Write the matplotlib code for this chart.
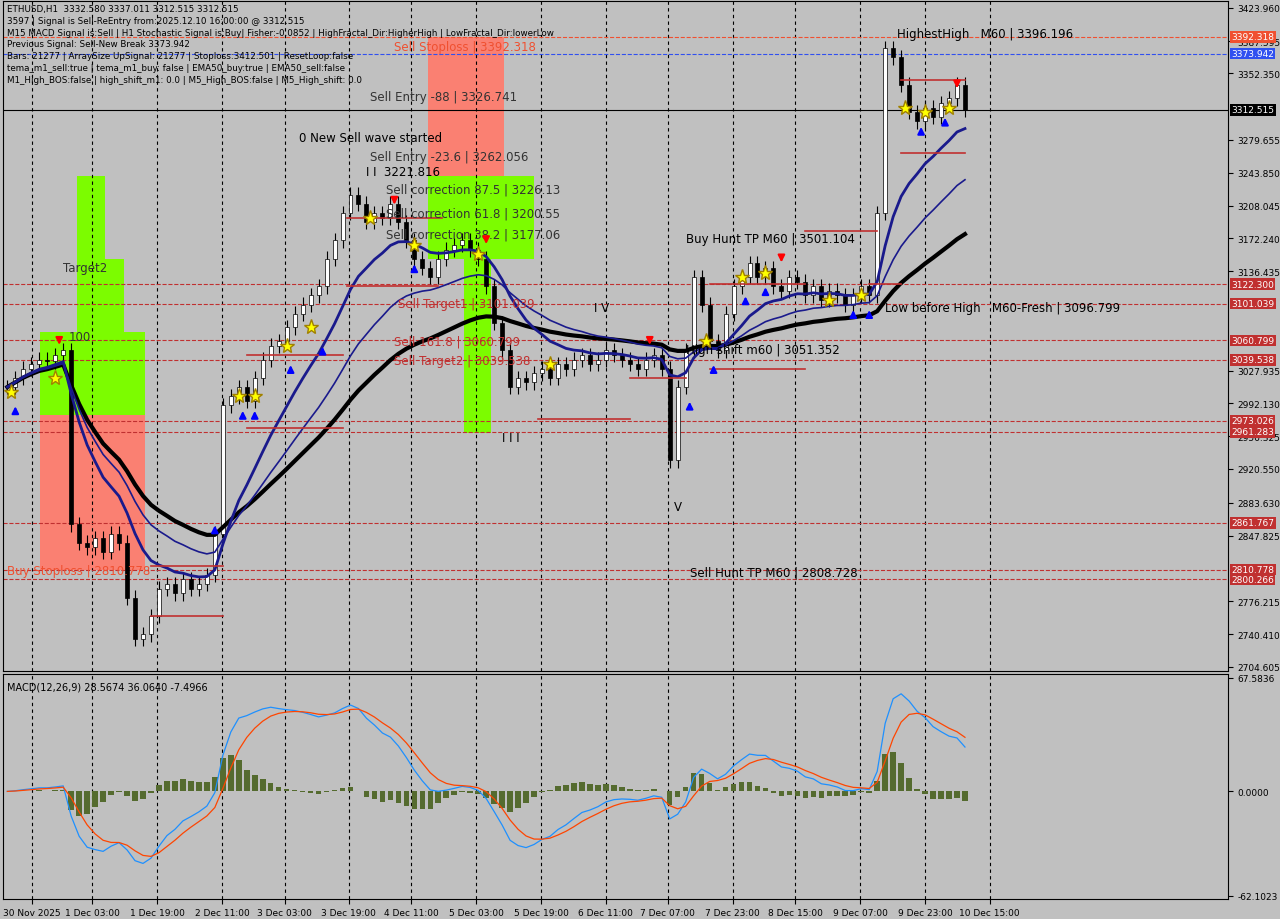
import matplotlib
matplotlib.use("Agg")
import matplotlib.pyplot as plt
import numpy as np
import pandas as pd
from matplotlib.patches import Rectangle

closes = [3010,3020,3030,3035,3040,3038,3045,3050,2860,2840,2835,2845,2830,2850,2840,2780,2735,2740,2760,2790,
          2795,2785,2800,2790,2795,2805,2850,2990,3000,3010,2995,3020,3040,3055,3060,3075,3090,3100,3110,3120,
          3150,3170,3200,3220,3210,3190,3200,3195,3210,3190,3170,3150,3140,3130,3150,3160,3165,3170,3160,3150,
          3120,3080,3050,3010,3020,3015,3025,3030,3020,3035,3030,3040,3045,3035,3040,3050,3045,3040,3035,3030,
          3040,3045,3030,2930,3010,3050,3130,3100,3060,3050,3090,3120,3130,3145,3130,3140,3120,3115,3130,3125,
          3110,3120,3105,3115,3110,3100,3110,3120,3110,3200,3380,3370,3340,3310,3300,3315,3305,3320,3325,3340,3312.515]
date_pos = [3.1,10.6,18.75,26.9,34.75,42.75,50.6,58.75,66.9,75,82.75,90.9,98.75,106.9,115,123.1]
date_labels = ["30 Nov 2025","1 Dec 03:00","1 Dec 19:00","2 Dec 11:00","3 Dec 03:00","3 Dec 19:00","4 Dec 11:00",
               "5 Dec 03:00","5 Dec 19:00","6 Dec 11:00","7 Dec 07:00","7 Dec 23:00","8 Dec 15:00","9 Dec 07:00",
               "9 Dec 23:00","10 Dec 15:00"]
price_ticks = [3423.960,3387.595,3352.350,3279.655,3243.850,3208.045,3172.240,3136.435,3027.935,2992.130,
               2956.325,2920.550,2883.630,2847.825,2776.215,2740.410,2704.605]
levels = [(3392.318,'#F05030','--'),(3373.942,'#3050F0','--'),(3312.515,'#000000','-'),(3122.300,'#C03030','--'),
          (3101.039,'#C03030','--'),(3060.799,'#C03030','--'),(3039.538,'#C03030','--'),(2973.026,'#C03030','--'),
          (2961.283,'#C03030','--'),(2861.767,'#C03030','--'),(2810.778,'#C03030','--'),(2800.266,'#C03030','--')]
macd_ticks = [67.5836,0.0,-62.1023]

bg = '#C0C0C0'
fig = plt.figure(figsize=(12.8,9.2), dpi=100, facecolor=bg)
ax = fig.add_axes([0.002,0.27,0.957,0.728], facecolor=bg)
ax2 = fig.add_axes([0.002,0.022,0.957,0.244], facecolor=bg)
n = len(closes)
x = np.arange(n)
c = np.array(closes, float)
o = np.r_[c[0], c[:-1]]
hi = np.maximum(o,c)+8; lo = np.minimum(o,c)-8
for (x0,x1,y0,y1,col) in [(4.1,17.2,2810,3040,'#FA8072'),(4.1,17.2,2980,3070,'#7CFC00'),(8.7,12.2,2980,3240,'#7CFC00'),
                          (12.2,14.6,2980,3150,'#7CFC00'),(52.7,62.2,3240,3392,'#FA8072'),(52.7,66,3150,3240,'#7CFC00'),
                          (57.2,60.6,2960,3150,'#7CFC00')]:
    ax.add_patch(Rectangle((x0,y0),x1-x0,y1-y0,color=col,zorder=1,lw=0))
for i in range(n):
    ax.vlines(x[i],lo[i],hi[i],color='black',lw=0.8,zorder=3)
    ax.add_patch(Rectangle((x[i]-0.25,min(o[i],c[i])),0.5,max(abs(c[i]-o[i]),0.5),
                 facecolor='white' if c[i]>=o[i] else 'black',edgecolor='black',lw=0.5,zorder=3))
s = pd.Series(c)
ax.plot(x, s.ewm(span=50).mean(), color='black', lw=3, zorder=4)
ax.plot(x, s.ewm(span=12).mean(), color='#1A1A8C', lw=2, zorder=4)
ax.plot(x, s.ewm(span=25).mean(), color='#1A1A8C', lw=1.2, zorder=4)
for lv,col,ls in levels:
    ax.axhline(lv, color=col, ls=ls, lw=0.8, zorder=2)
    ax.text(1.003, lv, f"{lv:.3f}", transform=ax.get_yaxis_transform(), fontsize=6.5, color='white', va='center',
            bbox=dict(facecolor=col, edgecolor='none', pad=1.0), zorder=8)
for p in date_pos:
    ax.axvline(p, color='black', ls=(0,(3,3)), lw=0.8, zorder=1)
    ax2.axvline(p, color='black', ls=(0,(3,3)), lw=0.8, zorder=1)
ax.set_xlim(-0.6,152.9); ax.set_ylim(2700.5,3431.5)
ax.yaxis.tick_right(); ax.set_yticks(price_ticks); ax.set_yticklabels([f"{t:.3f}" for t in price_ticks], fontsize=6.5)
ax.set_xticks([])
info = ["ETHUSD,H1  3332.580 3337.011 3312.515 3312.515",
        "3597 | Signal is Sell-ReEntry from:2025.12.10 16:00:00 @ 3312.515",
        "M15 MACD Signal is:Sell | H1 Stochastic Signal is:Buy| Fisher:-0.0852 | HighFractal_Dir:HigherHigh | LowFractal_Dir:lowerLow",
        "Previous Signal: Sell-New Break 3373.942",
        "Bars: 21277 | ArraySize UpSignal: 21277 | Stoploss:3412.501 | ResetLoop:false",
        "tema_m1_sell:true | tema_m1_buy: false | EMA50_buy:true | EMA50_sell:false",
        "M1_High_BOS:false | high_shift_m1: 0.0 | M5_High_BOS:false | M5_High_shift: 0.0"]
for k,t in enumerate(info):
    ax.text(0.004, 0.995-k*0.0175, t, transform=ax.transAxes, fontsize=6.3, va='top', color='black')
notes = [(48.5,3382,"Sell Stoploss | 3392.318",'#F05030'),(45.5,3327,"Sell Entry -88 | 3326.741",'#333333'),
         (45.5,3262,"Sell Entry -23.6 | 3262.056",'#333333'),(36.5,3282,"0 New Sell wave started",'black'),
         (47.5,3226,"Sell correction 87.5 | 3226.13",'#333333'),(47.5,3200,"Sell correction 61.8 | 3200.55",'#333333'),
         (47.5,3177,"Sell correction 38.2 | 3177.06",'#333333'),(49,3101,"Sell Target1 | 3101.039",'#C03030'),
         (48.5,3060,"Sell 161.8 | 3060.799",'#C03030'),(48.5,3039,"Sell Target2 | 3039.538",'#C03030'),
         (85,3172,"Buy Hunt TP M60 | 3501.104",'black'),(85.5,2808,"Sell Hunt TP M60 | 2808.728",'black'),
         (85,3051,"High shift m60 | 3051.352",'black'),(110,3097,"Low before High   M60-Fresh | 3096.799",'black'),
         (111.5,3396,"HighestHigh   M60 | 3396.196",'black'),(0,2810,"Buy Stoploss | 2810.778",'#F05030'),
         (7,3140,"Target2",'#333333'),(7.7,3065,"100",'#333333'),(45,3245,"I I  3221.816",'black'),
         (83.5,2880,"V",'black'),(62,2955,"I I I",'black'),(73.5,3097,"I V",'black')]
for xx,yy,t,col in notes:
    ax.text(xx,yy,t,fontsize=8.5,color=col,va='center',zorder=6)
for (a,b,y) in [(42.5,54.5,3195),(18,27,2815),(18,27,2760),(30,42,3045),(30,42,2965),(42.5,54,3120),(66.5,78,2975),
                (78,85,3020),(88,100,3122),(100,109,3180),(108,112,3122),(112,120,3345),(112,120,3265),(88,100,3030)]:
    ax.plot([a,b],[y,y],color='#C03030',lw=1.2,zorder=5)
for xx,yy in [(0.5,3005),(6,3020),(29,3000),(31,3000),(35,3055),(38,3075),(45.5,3195),(51,3165),(59,3155),(68,3035),
              (87.5,3060),(92,3130),(95,3135),(103,3105),(107,3110),(112.5,3315),(115,3310),(118,3315)]:
    ax.plot(xx,yy,marker='*',color='yellow',ms=11,mec='#A08000',zorder=7)
for xx,yy in [(1,2980),(29.5,2975),(31,2975),(35.5,3025),(39.5,3045),(26,2850),(51,3135),(85.5,2985),(88.5,3025),
              (92.5,3100),(95,3110),(106,3085),(108,3085),(114.5,3285),(117.5,3295)]:
    ax.annotate('',xy=(xx,yy+12),xytext=(xx,yy),arrowprops=dict(arrowstyle='-|>',color='blue',lw=1.5),zorder=7)
for xx,yy in [(6.5,3065),(48.5,3218),(60,3175),(80.5,3065),(97,3155),(119,3345)]:
    ax.annotate('',xy=(xx,yy-12),xytext=(xx,yy),arrowprops=dict(arrowstyle='-|>',color='red',lw=1.5),zorder=7)
fast = s.ewm(span=6).mean(); slow = s.ewm(span=13).mean()
macd = fast-slow; sig = macd.ewm(span=4.5).mean()
ax2.bar(x, macd-sig, width=0.7, color='#556B2F', zorder=3)
ax2.plot(x, macd, color='#1E90FF', lw=0.9, zorder=4)
ax2.plot(x, sig, color='#FF4500', lw=0.9, zorder=4)
m = max(abs(macd).max(),1)
ax2.set_ylim(-m*1.1, m*1.2)
ax2.set_xlim(-0.6,152.9)
ax2.yaxis.tick_right()
yl = ax2.get_ylim()
ax2.set_yticks([yl[1]*0.97,0,yl[0]*0.97]); ax2.set_yticklabels([f"{v:.4f}" for v in macd_ticks], fontsize=6.5)
ax2.set_xticks(date_pos); ax2.set_xticklabels(date_labels, fontsize=6.5)
ax2.text(0.004,0.97,"MACD(12,26,9) 28.5674 36.0640 -7.4966",transform=ax2.transAxes,fontsize=7,va='top')
fig.savefig("out.png", dpi=100, facecolor=bg)
